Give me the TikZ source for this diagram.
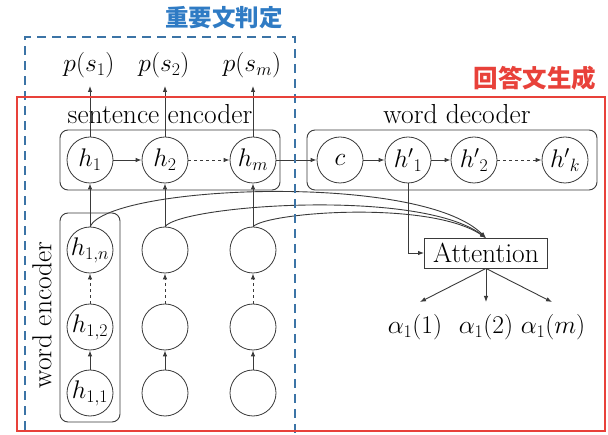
\RequirePackage{fix-cm}
\documentclass[tikz,border=0pt]{standalone}
\usepackage{fontspec}
\usetikzlibrary{arrows.meta}
\newfontfamily\cjkfont{Noto Sans CJK JP}
\definecolor{boxblue}{HTML}{3C74A6}
\definecolor{titleblue}{HTML}{2F7BC4}
\definecolor{boxred}{HTML}{E8413A}
\definecolor{linegray}{HTML}{3A3A3A}
\begin{document}
\begin{tikzpicture}[x=1pt,y=-1pt,
  font=\fontsize{25.5}{30}\selectfont,
  cell/.style={circle,draw=linegray,line width=0.8pt,minimum size=46pt,inner sep=0pt},
  grp/.style={draw=linegray,line width=0.9pt,rounded corners=8pt},
  arr/.style={-{Latex[length=6pt,width=4.5pt]},line width=0.9pt,draw=linegray},
  lbl/.style={inner sep=1pt},
  big/.style={font=\fontsize{27.5}{32}\selectfont}
]
\useasboundingbox (0,0) rectangle (608,435);
% group boxes
\draw[grp] (60,130) rectangle (280,190);
\draw[grp] (307,130) rectangle (597,190);
\draw[grp] (60,213) rectangle (120,422);
% labels of groups
\node[lbl,big] (selbl) at (160,114) {sentence encoder};
\node[lbl,big] (wdlbl) at (457,114) {word decoder};
\node[lbl,big,rotate=90] (welbl) at (42,315) {word encoder};
% sentence encoder cells
\node[cell] (h1) at (90,160) {$h_1$};
\node[cell] (h2) at (165,160) {$h_2$};
\node[cell] (hm) at (253,160) {$h_m$};
% decoder cells
\node[cell] (c) at (340,160) {$c$};
\node[cell] (d1) at (408,160) {${h'}_1$};
\node[cell] (d2) at (474,160) {${h'}_2$};
\node[cell] (dk) at (565,160) {${h'}_k$};
% word encoder cells
\node[cell] (w1n) at (90,250) {$h_{1,n}$};
\node[cell] (w12) at (90,327) {$h_{1,2}$};
\node[cell] (w11) at (90,393) {$h_{1,1}$};
\node[cell] (w2n) at (165,250) {};
\node[cell] (w22) at (165,327) {};
\node[cell] (w21) at (165,393) {};
\node[cell] (wmn) at (253,250) {};
\node[cell] (wm2) at (253,327) {};
\node[cell] (wm1) at (253,393) {};
% outputs
\node[lbl] (p1) at (89,65) {$p(s_1)$};
\node[lbl] (p2) at (164,65) {$p(s_2)$};
\node[lbl] (pm) at (252,65) {$p(s_m)$};
% attention
\node[draw=linegray,line width=0.9pt,minimum width=123pt,minimum height=30pt,inner sep=2pt,big] (att) at (486,253) {Attention};
\node[lbl] (a1) at (415,327) {$\alpha_1(1)$};
\node[lbl] (a2) at (486,327) {$\alpha_1(2)$};
\node[lbl] (am) at (553,327) {$\alpha_1(m)$};
\coordinate (a1t) at (420,302);
\coordinate (a2t) at (486,302);
\coordinate (amt) at (552,302);
% arrows sentence encoder
\draw[arr] (h1.north) -- (h1.north |- 0,86);
\draw[arr] (h2.north) -- (h2.north |- 0,86);
\draw[arr] (hm.north) -- (hm.north |- 0,86);
\draw[arr] (h1) -- (h2);
\draw[arr,dashed] (h2) -- (hm);
\draw[arr] (hm) -- (c);
\draw[arr] (c) -- (d1);
\draw[arr] (d1) -- (d2);
\draw[arr,dashed] (d2) -- (dk);
% word encoder arrows
\foreach \a/\b/\cc/\top in {w11/w12/w1n/h1, w21/w22/w2n/h2, wm1/wm2/wmn/hm}{
  \draw[arr] (\a) -- (\b);
  \draw[arr,dashed] (\b) -- (\cc);
  \draw[arr] (\cc) -- (\top);
}
% curves to attention
\coordinate (attin) at (486,238);
\draw[arr] (w1n.north) .. controls (110,185) and (420,172) .. (attin);
\draw[arr] (w2n.north) .. controls (182,205) and (420,188) .. (attin);
\draw[arr] (wmn.north) .. controls (268,212) and (430,200) .. (attin);
% decoder to attention
\draw[arr] (d1.south) |- (att.west);
\draw[arr] (att.south) -- (a1t);
\draw[arr] (att.south) -- (a2t);
\draw[arr] (att.south) -- (amt);
% blue dashed box
\draw[boxblue,line width=2pt,dash pattern=on 9pt off 6pt] (25,445) -- (25,37) -- (295,37) -- (295,445);
\node[text=titleblue,font=\cjkfont\bfseries\fontsize{23.5}{27}\selectfont,inner sep=0pt] (ttl1) at (224,18) {重要文判定};
% red box
\draw[boxred,line width=2.2pt] (17,97) rectangle (605,431);
\node[text=boxred,font=\cjkfont\bfseries\fontsize{24.5}{28}\selectfont,inner sep=0pt] (ttl2) at (535,78) {回答文生成};
\end{tikzpicture}
\end{document}
